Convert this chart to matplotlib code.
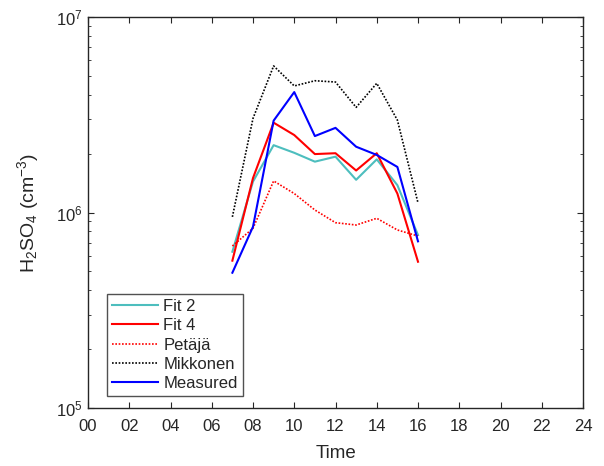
import matplotlib
matplotlib.use("Agg")
import matplotlib.pyplot as plt
from matplotlib.ticker import LogLocator, NullFormatter, FixedLocator

plt.rcParams['font.family'] = ['Liberation Sans', 'DejaVu Sans']
plt.rcParams['mathtext.fontset'] = 'custom'
plt.rcParams['mathtext.rm'] = 'Liberation Sans'
plt.rcParams['mathtext.it'] = 'Liberation Sans'
plt.rcParams['mathtext.default'] = 'rm'

hours = [7, 8, 9, 10, 11, 12, 13, 14, 15, 16]
fit2 = [6.30e5, 1.44e6, 2.21e6, 2.02e6, 1.82e6, 1.93e6, 1.47e6, 1.87e6, 1.38e6, 7.67e5]
fit4 = [5.67e5, 1.50e6, 2.88e6, 2.49e6, 1.99e6, 2.01e6, 1.64e6, 2.01e6, 1.25e6, 5.6e5]
petaja = [6.74e5, 8.3e5, 1.45e6, 1.25e6, 1.03e6, 8.87e5, 8.63e5, 9.34e5, 8.14e5, 7.58e5]
mikkonen = [9.5e5, 3.03e6, 5.62e6, 4.44e6, 4.72e6, 4.65e6, 3.45e6, 4.58e6, 2.97e6, 1.12e6]
measured = [4.92e5, 8.46e5, 2.95e6, 4.13e6, 2.46e6, 2.71e6, 2.17e6, 1.97e6, 1.71e6, 7.12e5]
xticks = list(range(0, 25, 2))
xticklabels = [f"{t:02d}" for t in xticks]

fig = plt.figure(figsize=(6.04, 4.66), dpi=100)
ax = fig.add_axes([88/604, 1-408/466, (583-88)/604, (408-17)/466])

ax.plot(hours, fit2, color='#4DBEBE', lw=1.5, label='Fit 2')
ax.plot(hours, fit4, color='#FF0000', lw=1.5, label='Fit 4')
ax.plot(hours, petaja, color='#FF0000', lw=1.2, ls=(0, (1, 1)), label='Petäjä')
ax.plot(hours, mikkonen, color='black', lw=1.2, ls=(0, (1, 1)), label='Mikkonen')
ax.plot(hours, measured, color='#0000FF', lw=1.5, label='Measured')

ax.set_yscale('log')
ax.set_ylim(1e5, 1e7)
ax.set_xlim(0, 24)
ax.xaxis.set_major_locator(FixedLocator(xticks))
ax.set_xticklabels(xticklabels)
ax.yaxis.set_major_locator(LogLocator(base=10, numticks=10))
ax.yaxis.set_minor_locator(LogLocator(base=10, subs=range(2, 10), numticks=20))
ax.yaxis.set_minor_formatter(NullFormatter())

edge = '#262626'
for s in ax.spines.values():
    s.set_color(edge)
    s.set_linewidth(1.0)
ax.tick_params(which='both', direction='in', top=True, right=True, colors=edge,
               labelcolor='#262626', labelsize=12)
ax.tick_params(which='major', length=4)
ax.tick_params(which='minor', length=2.5)
ax.tick_params(axis='x', pad=8)
ax.tick_params(axis='y', pad=4)

ax.set_xlabel('Time', fontsize=13.5, color='#262626', labelpad=8)
ax.set_ylabel(r'H$_2$SO$_4$ (cm$^{-3}$)', fontsize=14, color='#262626', labelpad=11)

leg = ax.legend(loc='lower left', bbox_to_anchor=(0.038, 0.03), fontsize=12,
                frameon=True, fancybox=False, handlelength=2.8, handletextpad=0.3,
                borderpad=0.3, labelspacing=0.26, borderaxespad=0.0)
leg.get_frame().set_edgecolor(edge)
leg.get_frame().set_linewidth(1.0)
for t in leg.get_texts():
    t.set_color('#262626')

fig.savefig('out.png', dpi=100, facecolor='white')
